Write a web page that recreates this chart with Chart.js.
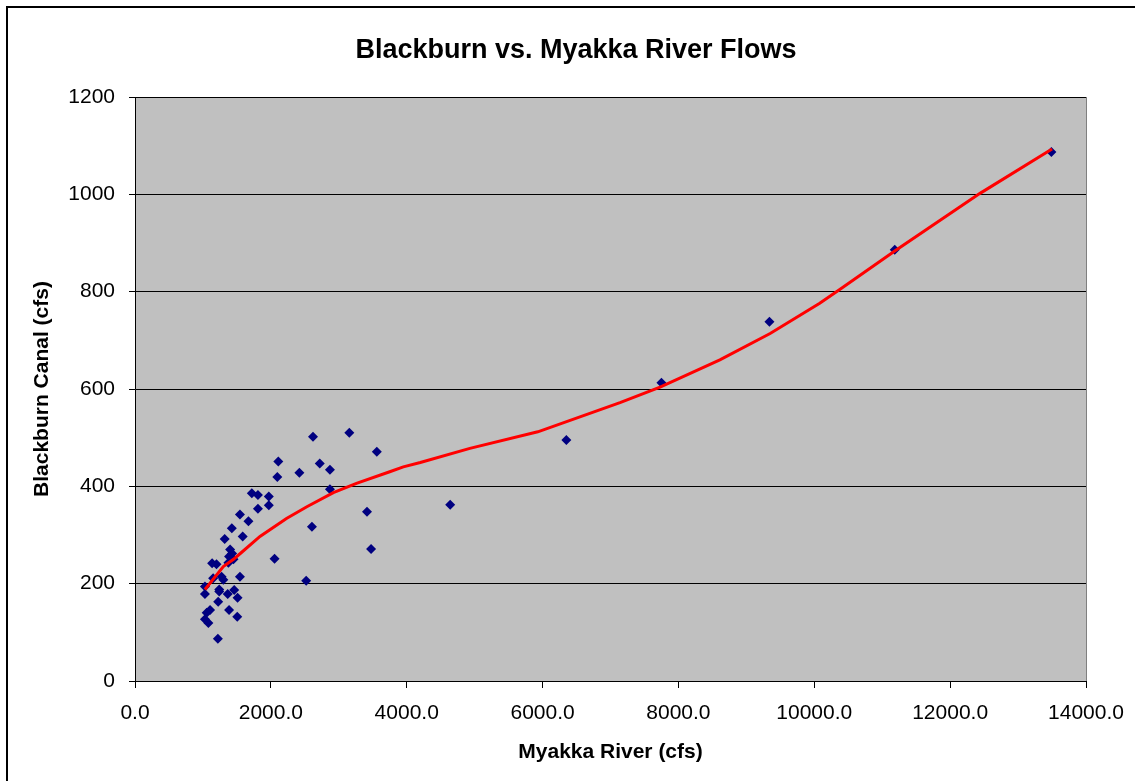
<!DOCTYPE html>
<html>
<head>
<meta charset="utf-8">
<script src="https://cdn.jsdelivr.net/npm/chart.js@4/dist/chart.umd.min.js"></script>
<style>
  html, body { margin: 0; padding: 0; background: #fff; overflow: hidden; }
  #wrap { width: 1135px; height: 781px; position: relative; }
</style>
</head>
<body>
<div id="wrap"><canvas id="c" width="1135" height="781"></canvas></div>
<script>
// Daily flows (cfs): Myakka River vs. Blackburn Canal
const myakkaFlow = [
  2620, 3155, 3560, 2110, 2720, 2870, 2420, 2095, 2870, 1720,
  1810, 1970, 1970, 1810, 3415, 1545, 1670, 2605, 1425, 1585,
  1320, 3475, 1400, 1430, 1385, 1450, 1375, 2055, 1135, 1200,
  1545, 2520, 1150, 1275, 1300, 1030, 1030, 1240, 1240, 1365,
  1460, 1510, 1225, 1105, 1055, 1385, 1030, 1080, 1505, 1220,
  4640, 6350, 7750, 9340, 11185, 13490
];
const blackburnFlow = [
  502, 510, 471, 451, 447, 434, 428, 419, 394, 386,
  382, 379, 361, 354, 348, 342, 328, 317, 314, 297,
  292, 271, 270, 262, 256, 250, 243, 251, 242, 240,
  214, 206, 211, 214, 208, 194, 179, 188, 184, 179,
  187, 171, 163, 146, 140, 146, 127, 119, 132, 87,
  362, 495, 613, 738, 886, 1087
];

// Smoothed trend through the scatter
const trendX = [1030, 1300, 1450, 1550, 1840, 2230, 2530, 2920, 3260, 3750, 3950, 4200,
                4930, 5930, 7140, 7730, 8610, 9350, 10080, 10380, 11190, 12440, 13500];
const trendY = [188, 235, 250, 262, 297, 334, 358, 387, 406, 430, 440, 449,
                478, 512, 572, 604, 660, 714, 776, 805, 884, 1002, 1093];

const xTicks = [0, 2000, 4000, 6000, 8000, 10000, 12000, 14000];
const yTicks = [0, 200, 400, 600, 800, 1000, 1200];

const FONT = '"Liberation Sans", Arial, sans-serif';

const scatterPts = myakkaFlow.map((x, i) => ({ x, y: blackburnFlow[i] }));
const trendPts = trendX.map((x, i) => ({ x, y: trendY[i] }));

// Outer frame, grey plot background, and a title centred over the whole sheet
const frame = {
  id: 'frame',
  afterLayout(chart) {
    const t = chart.titleBlock;
    if (t) { t.left += 33; t.right += 33; }
  },
  beforeDraw(chart) {
    const { ctx, chartArea: a } = chart;
    ctx.save();
    ctx.fillStyle = '#fff';
    ctx.fillRect(0, 0, chart.width, chart.height);
    ctx.strokeStyle = '#000';
    ctx.lineWidth = 2;
    ctx.strokeRect(7, 7, chart.width + 20, chart.height + 20);
    ctx.fillStyle = '#C0C0C0';
    ctx.fillRect(a.left, a.top, a.right - a.left, a.bottom - a.top);
    ctx.strokeStyle = '#808080';
    ctx.lineWidth = 1;
    ctx.strokeRect(a.left + 0.5, a.top + 0.5, a.right - a.left, a.bottom - a.top);
    ctx.restore();
  }
};

new Chart(document.getElementById('c'), {
  type: 'scatter',
  data: {
    datasets: [
      {
        label: 'Trend',
        data: trendPts,
        showLine: true,
        borderColor: '#FF0000',
        borderWidth: 3,
        pointRadius: 0,
        fill: false,
        tension: 0,
        order: 0
      },
      {
        label: 'Flows',
        data: scatterPts,
        pointStyle: 'rectRot',
        pointRadius: 5,
        pointBackgroundColor: '#000080',
        pointBorderColor: '#000080',
        pointBorderWidth: 0,
        showLine: false,
        order: 1
      }
    ]
  },
  options: {
    responsive: false,
    animation: false,
    events: [],
    layout: { padding: { left: 0, right: 49, top: 0, bottom: 0 } },
    plugins: {
      legend: { display: false },
      tooltip: { enabled: false },
      title: {
        display: true,
        text: 'Blackburn vs. Myakka River Flows',
        color: '#000',
        font: { family: FONT, size: 27, weight: 'bold' },
        padding: { top: 34.3, bottom: 30.3 }
      }
    },
    scales: {
      x: {
        type: 'linear',
        min: 0,
        max: 14000,
        afterBuildTicks(scale) { scale.ticks = xTicks.map(v => ({ value: v })); },
        afterFit(scale) { scale.height = 100; },
        ticks: {
          color: '#000',
          font: { family: FONT, size: 21 },
          padding: 10,
          maxRotation: 0,
          callback: v => Number(v).toFixed(1)
        },
        // 6px visible tick marks; the remaining tick length only spaces the labels
        grid: {
          drawOnChartArea: false, drawTicks: true, tickLength: 10,
          tickBorderDash: [6, 40], color: '#000', lineWidth: 1
        },
        border: { display: true, color: '#000', width: 1 },
        title: {
          display: true,
          text: 'Myakka River (cfs)',
          color: '#000',
          font: { family: FONT, size: 21, weight: 'bold' },
          padding: { top: 0, bottom: 16.5 }
        }
      },
      y: {
        type: 'linear',
        min: 0,
        max: 1200,
        afterBuildTicks(scale) { scale.ticks = yTicks.map(v => ({ value: v })); },
        afterFit(scale) { scale.width = 135; },
        ticks: {
          color: '#000',
          font: { family: FONT, size: 21 },
          padding: 14,
          callback: v => String(v)
        },
        grid: { drawOnChartArea: true, drawTicks: true, tickLength: 6, color: '#000', lineWidth: 1 },
        border: { display: true, color: '#000', width: 1 },
        title: {
          display: true,
          text: 'Blackburn Canal (cfs)',
          color: '#000',
          font: { family: FONT, size: 21, weight: 'bold' },
          padding: { top: 29.4, bottom: 0 }
        }
      }
    }
  },
  plugins: [frame]
});
</script>
</body>
</html>
